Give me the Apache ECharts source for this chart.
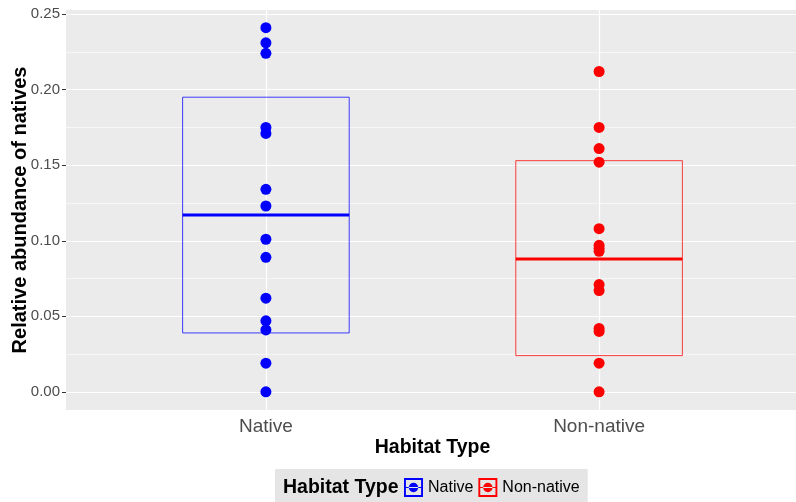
<!DOCTYPE html>
<html>
<head>
<meta charset="utf-8">
<script src="https://cdn.jsdelivr.net/npm/echarts@6/dist/echarts.min.js"></script>
<style>
html, body { margin: 0; padding: 0; background: #fff; }
#chart { width: 796px; height: 502px; }
</style>
</head>
<body>
<div id="chart"></div>
<script>
// habitat groups, x positions are 1 and 2
const categories = ["Native", "Non-native"];
const yTicks = [0, 0.05, 0.1, 0.15, 0.2, 0.25];
const yMinorTicks = [0.025, 0.075, 0.125, 0.175, 0.225];

// relative abundance of natives, one value per site
const nativeValues = [0.241, 0.231, 0.224, 0.175, 0.171, 0.134, 0.123, 0.101, 0.089, 0.062, 0.047, 0.041, 0.019, 0.0];
const nonNativeValues = [0.212, 0.175, 0.161, 0.152, 0.108, 0.097, 0.095, 0.093, 0.071, 0.067, 0.042, 0.040, 0.019, 0.0];

// crossbar: lower, middle, upper
const nativeBox = [0.039, 0.117, 0.195];
const nonNativeBox = [0.024, 0.088, 0.153];

const colors = ["#0000ff", "#ff0000"];
const font = "'Liberation Sans', Arial, sans-serif";

function boxRender(color) {
  return function (params, api) {
    const x = api.value(0);
    const half = api.size([0.25, 0])[0];
    const lo = api.coord([x, api.value(1)]);
    const md = api.coord([x, api.value(2)]);
    const hi = api.coord([x, api.value(3)]);
    return {
      type: "group",
      children: [
        {
          type: "rect",
          shape: { x: lo[0] - half, y: hi[1], width: half * 2, height: lo[1] - hi[1] },
          style: { fill: "none", stroke: color, lineWidth: 1, opacity: 0.75 }
        },
        {
          type: "line",
          shape: { x1: md[0] - half, y1: md[1], x2: md[0] + half, y2: md[1] },
          style: { stroke: color, lineWidth: 3 }
        }
      ]
    };
  };
}

const groups = [
  { name: categories[0], values: nativeValues, box: nativeBox, color: colors[0] },
  { name: categories[1], values: nonNativeValues, box: nonNativeBox, color: colors[1] }
];

const series = [];
groups.forEach(function (g, i) {
  series.push({
    name: g.name,
    type: "custom",
    renderItem: boxRender(g.color),
    itemStyle: { color: g.color },
    encode: { x: 0, y: [1, 2, 3] },
    data: [[i + 1].concat(g.box)],
    z: 2
  });
  series.push({
    name: g.name,
    type: "scatter",
    symbolSize: 11,
    itemStyle: { color: g.color, opacity: 1 },
    data: g.values.map(function (v) { return [i + 1, v]; }),
    z: 3
  });
});

// legend key: frame + dot + middle bar
const keyIcon = "path://M0,0H20V20H0Z M2,2V18H18V2Z M10,5A5,5 0 1,0 10,15A5,5 0 1,0 10,5Z M2,9.5H18V10.5H2Z";

const option = {
  animation: false,
  textStyle: { fontFamily: font },
  title: {
    text: "Habitat Type",
    left: 283,
    top: 478,
    padding: 0,
    textStyle: { fontFamily: font, fontWeight: "bold", fontSize: 19.5, color: "#000" }
  },
  legend: {
    data: categories,
    left: 275,
    top: 469,
    padding: [9, 8, 9, 129],
    backgroundColor: "#e5e5e5",
    icon: keyIcon,
    itemWidth: 19,
    itemHeight: 19,
    itemGap: 5,
    textStyle: { fontFamily: font, fontSize: 16, color: "#000" }
  },
  grid: {
    left: 66,
    right: -3,
    top: 10,
    bottom: 92,
    outerBoundsMode: "none",
    containLabel: false,
    show: true,
    backgroundColor: "#ebebeb",
    borderWidth: 0
  },
  xAxis: {
    type: "value",
    min: 0.4,
    max: 2.6,
    name: "Habitat Type",
    nameLocation: "middle",
    nameGap: 28,
    nameMoveOverlap: false,
    nameTextStyle: { fontFamily: font, fontWeight: "bold", fontSize: 19.5, color: "#000" },
    axisLine: { show: false },
    axisTick: { show: true, length: 4, customValues: [1, 2], lineStyle: { color: "#333" } },
    axisLabel: {
      customValues: [1, 2],
      margin: 7,
      fontSize: 19,
      color: "#4d4d4d",
      fontFamily: font,
      formatter: function (v) { return categories[Math.round(v) - 1]; }
    },
    splitLine: { show: true, lineStyle: { color: "#fff", width: 1.2 } }
  },
  yAxis: [
    {
      type: "value",
      min: -0.012,
      max: 0.2527,
      name: "Relative abundance of natives",
      nameLocation: "middle",
      nameGap: 36,
      nameMoveOverlap: false,
      nameTextStyle: { fontFamily: font, fontWeight: "bold", fontSize: 20, color: "#000" },
      axisLine: { show: false },
      axisTick: { show: true, length: 4, customValues: yTicks, lineStyle: { color: "#333" } },
      axisLabel: {
        customValues: yTicks,
        margin: 6,
        fontSize: 15,
        color: "#4d4d4d",
        fontFamily: font,
        formatter: function (v) { return v.toFixed(2); }
      },
      splitLine: { show: true, lineStyle: { color: "#fff", width: 1.2 } }
    },
    {
      type: "value",
      min: -0.012,
      max: 0.2527,
      axisLine: { show: false },
      axisTick: { show: false, customValues: yMinorTicks },
      axisLabel: { show: false, customValues: yMinorTicks },
      splitLine: { show: true, lineStyle: { color: "#fff", width: 0.6 } }
    }
  ],
  series: series
};

const myChart = echarts.init(document.getElementById("chart"));
myChart.setOption(option);
</script>
</body>
</html>
